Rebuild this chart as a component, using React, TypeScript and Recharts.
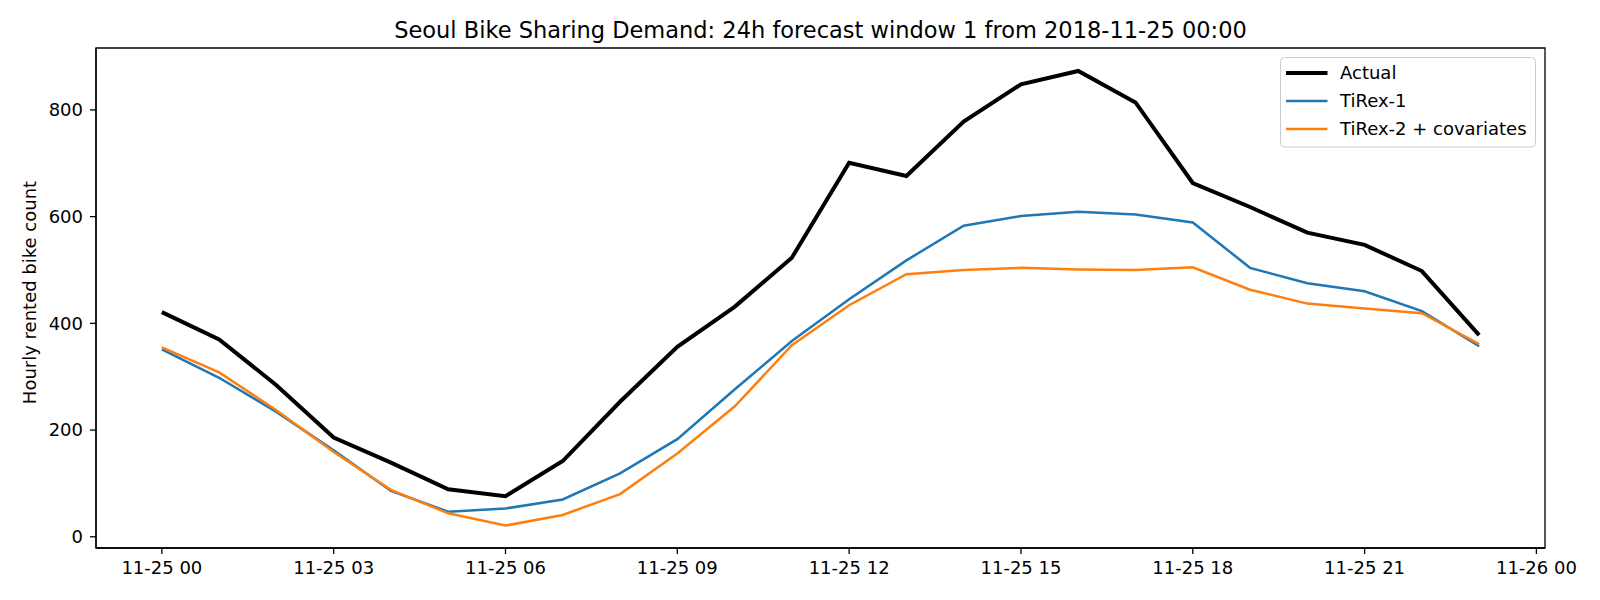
import { LineChart, Line, XAxis, YAxis, Legend, ReferenceArea } from "recharts";

// hours after 2018-11-25 00:00
const hours = [0, 1, 2, 3, 4, 5, 6, 7, 8, 9, 10, 11, 12, 13, 14, 15, 16, 17, 18, 19, 20, 21, 22, 23];

const actual = [421, 370, 284, 186, 139, 89, 76, 142, 253, 356, 431, 523, 701, 676, 778, 848, 873, 814, 663, 618, 570, 547, 498, 378];
const tirex1 = [351, 298, 234, 162, 86, 47, 53, 70, 119, 183, 276, 367, 445, 518, 583, 601, 609, 604, 589, 504, 475, 460, 423, 357];
const tirex2 = [355, 308, 237, 159, 88, 44, 21, 41, 80, 156, 244, 359, 434, 492, 500, 504, 501, 500, 505, 463, 437, 428, 419, 361];

const xTicks = [0, 3, 6, 9, 12, 15, 18, 21, 24];
const xTickLabels = ["11-25 00", "11-25 03", "11-25 06", "11-25 09", "11-25 12", "11-25 15", "11-25 18", "11-25 21", "11-26 00"];
const yTicks = [0, 200, 400, 600, 800];

const X_DOMAIN: [number, number] = [-1.15, 24.15];
const Y_DOMAIN: [number, number] = [-21, 916];

const series = [
    { key: "actual", name: "Actual", color: "#000000", width: 4 },
    { key: "tirex1", name: "TiRex-1", color: "#1f77b4", width: 2.5 },
    { key: "tirex2", name: "TiRex-2 + covariates", color: "#ff7f0e", width: 2.5 },
];

const data = hours.map((h, i) => ({
    hour: h,
    actual: actual[i],
    tirex1: tirex1[i],
    tirex2: tirex2[i],
}));

const FONT = "DejaVu Sans, sans-serif";
const tickStyle = { fill: "#000", fontSize: 18, fontFamily: FONT };

function LegendBox() {
    return (
        <svg width={256} height={91} style={{ display: "block" }}>
            <rect x={0.5} y={0.5} width={255} height={89.5} rx={4} fill="rgba(255,255,255,0.8)" stroke="#cccccc" />
            {series.map((s, i) => {
                const cy = 16 + i * 28;
                return (
                    <g key={s.key}>
                        <line x1={6} x2={47.5} y1={cy} y2={cy} stroke={s.color} strokeWidth={s.width} />
                        <text x={60} y={cy + 6.3} fontSize={18} fontFamily={FONT} fill="#000">
                            {s.name}
                        </text>
                    </g>
                );
            })}
        </svg>
    );
}

export default function App() {
    return (
        <div style={{ position: "absolute", left: 0, top: 0, width: 1600, height: 600, background: "#fff" }}>
            <LineChart
                width={1600}
                height={600}
                data={data}
                margin={{ top: 48, right: 55, bottom: 12, left: 36 }}
            >
                <XAxis
                    dataKey="hour"
                    type="number"
                    domain={X_DOMAIN}
                    ticks={xTicks}
                    interval={0}
                    tickFormatter={(v: number) => xTickLabels[xTicks.indexOf(v)]}
                    height={40}
                    tick={tickStyle}
                    tickSize={6}
                    tickMargin={7}
                    axisLine={{ stroke: "#000", strokeWidth: 1.3 }}
                    tickLine={{ stroke: "#000", strokeWidth: 1.3 }}
                />
                <YAxis
                    type="number"
                    domain={Y_DOMAIN}
                    ticks={yTicks}
                    interval={0}
                    width={60}
                    tick={tickStyle}
                    tickSize={6}
                    tickMargin={7}
                    axisLine={{ stroke: "#000", strokeWidth: 1.3 }}
                    tickLine={{ stroke: "#000", strokeWidth: 1.3 }}
                />
                {series.map((s) => (
                    <Line
                        key={s.key}
                        type="linear"
                        dataKey={s.key}
                        name={s.name}
                        stroke={s.color}
                        strokeWidth={s.width}
                        dot={false}
                        activeDot={false}
                        isAnimationActive={false}
                    />
                ))}
                <ReferenceArea
                    x1={X_DOMAIN[0]}
                    x2={X_DOMAIN[1]}
                    y1={Y_DOMAIN[0]}
                    y2={Y_DOMAIN[1]}
                    fill="none"
                    stroke="#000"
                    strokeWidth={1.3}
                />
                <Legend
                    layout="vertical"
                    align="center"
                    verticalAlign="middle"
                    content={() => <LegendBox />}
                    wrapperStyle={{ left: 1280, top: 57, width: 256, height: 91 }}
                />
            </LineChart>
            <svg
                width={1600}
                height={600}
                style={{ position: "absolute", left: 0, top: 0, pointerEvents: "none" }}
            >
                <text x={820.5} y={38} textAnchor="middle" fontSize={22.5} fontFamily={FONT} fill="#000">
                    Seoul Bike Sharing Demand: 24h forecast window 1 from 2018-11-25 00:00
                </text>
                <text
                    x={35.5}
                    y={292.5}
                    textAnchor="middle"
                    fontSize={18}
                    fontFamily={FONT}
                    fill="#000"
                    transform="rotate(-90 35.5 292.5)"
                >
                    Hourly rented bike count
                </text>
            </svg>
        </div>
    );
}
